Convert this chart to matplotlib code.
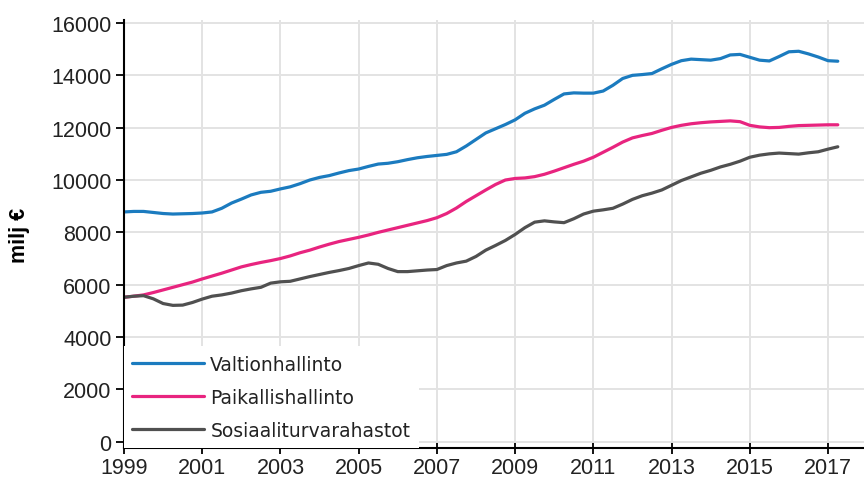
import numpy as np
import matplotlib.pyplot as plt

# quarterly values 1999Q1 .. 2017Q2, milj €
valtio = [8780, 8800, 8800, 8760, 8720, 8700, 8710, 8720,
          8740, 8780, 8920, 9120, 9270, 9430, 9530, 9570,
          9660, 9740, 9860, 10000, 10100, 10170, 10270, 10360,
          10420, 10520, 10610, 10640, 10700, 10780, 10850, 10900,
          10940, 10980, 11080, 11300, 11550, 11800, 11960, 12120,
          12300, 12550, 12720, 12860, 13080, 13290, 13330, 13320,
          13320, 13400, 13620, 13880, 14000, 14030, 14070, 14250,
          14420, 14560, 14620, 14600, 14580, 14640, 14780, 14800,
          14690, 14580, 14550, 14720, 14900, 14920, 14820, 14700,
          14560, 14540]
paikallis = [5520, 5560, 5610, 5700, 5800, 5900, 6000, 6100,
             6220, 6330, 6440, 6560, 6680, 6770, 6850, 6920,
             7000, 7100, 7220, 7320, 7440, 7550, 7650, 7730,
             7810, 7900, 8000, 8090, 8180, 8270, 8360, 8450,
             8560, 8720, 8930, 9180, 9400, 9620, 9830, 10000,
             10060, 10080, 10130, 10220, 10340, 10470, 10600, 10720,
             10870, 11060, 11250, 11450, 11610, 11700, 11780, 11900,
             12010, 12090, 12150, 12190, 12220, 12240, 12260, 12230,
             12090, 12030, 12000, 12010, 12050, 12080, 12090, 12100,
             12110, 12110]
sosiaali = [5520, 5560, 5580, 5460, 5280, 5210, 5220, 5320,
            5450, 5560, 5610, 5680, 5770, 5840, 5900, 6060,
            6110, 6130, 6220, 6310, 6390, 6470, 6540, 6620,
            6730, 6830, 6780, 6620, 6500, 6500, 6530, 6560,
            6580, 6730, 6830, 6900, 7080, 7320, 7500, 7690,
            7920, 8180, 8390, 8440, 8400, 8370, 8520, 8700,
            8810, 8860, 8920, 9080, 9260, 9400, 9500, 9620,
            9800, 9980, 10120, 10260, 10370, 10500, 10600, 10720,
            10870, 10950, 11000, 11030, 11010, 10990, 11040, 11080,
            11180, 11270]

nimet = ["Valtionhallinto", "Paikallishallinto", "Sosiaaliturvarahastot"]
varit = ["#1b7bbf", "#e8247f", "#505050"]

aika = 1999 + 0.25 * np.arange(len(valtio))

fig = plt.figure(figsize=(8.64, 4.85), dpi=100)
ax = fig.add_axes([124/864, 1 - 449.3/485, 1 - 124/864, (449.3 - 21)/485])

for sarja, nimi, vari in zip([valtio, paikallis, sosiaali], nimet, varit):
    ax.plot(aika, sarja, color=vari, lw=2.3, label=nimi, solid_capstyle='round')

ax.set_xlim(1999, 2017.92)
ax.set_ylim(-252, 16115)
ax.set_xticks(np.arange(1999, 2018, 2))
ax.set_yticks(np.arange(0, 16001, 2000))
ax.grid(True, color="#e3e3e3", lw=1.4)
ax.set_axisbelow(True)

for s in ["top", "right"]:
    ax.spines[s].set_visible(False)
ax.spines["left"].set_linewidth(1.5)
ax.spines["bottom"].set_linewidth(1.5)
ax.tick_params(axis='y', direction='out', length=6, width=1.3, pad=3)
ax.tick_params(axis='x', direction='inout', length=9, width=1.3, pad=2)
for lab in ax.get_xticklabels() + ax.get_yticklabels():
    lab.set_fontfamily("Liberation Sans")
    lab.set_fontsize(15.5)
    lab.set_color("#222222")

ax.set_ylabel("milj €", fontfamily="Liberation Sans", fontsize=15.5,
              fontweight="bold", labelpad=15)

leg = ax.legend(loc="lower left", bbox_to_anchor=(0.0, 0.0), frameon=True,
                fancybox=False, framealpha=1, edgecolor="none",
                prop={"family": "DejaVu Sans", "size": 13.5},
                handlelength=3.8, handletextpad=0.35, labelspacing=0.75,
                borderpad=0.45, borderaxespad=0.0)
for t in leg.get_texts():
    t.set_color("#222222")

fig.savefig("out.png", dpi=100)
